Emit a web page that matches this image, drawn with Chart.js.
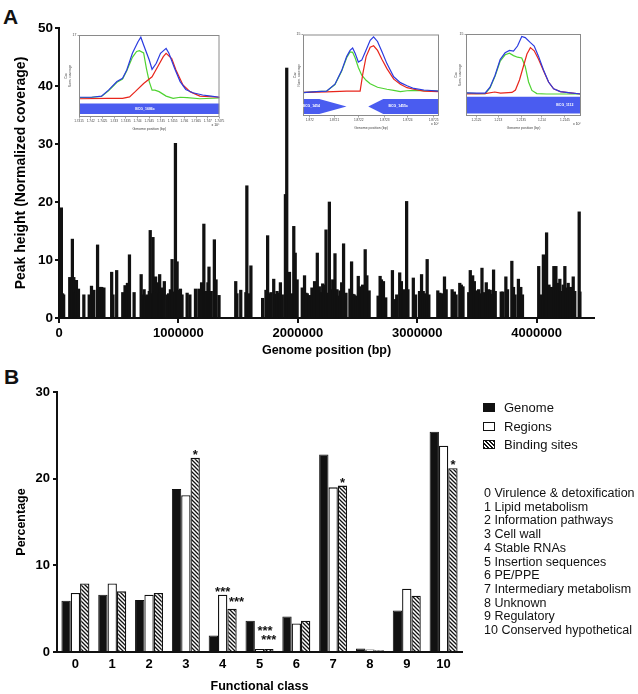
<!DOCTYPE html>
<html>
<head>
<meta charset="utf-8">
<script src="https://cdn.jsdelivr.net/npm/chart.js@4.4.1/dist/chart.umd.min.js"></script>
<style>
  body { margin: 0; background: #fff; }
  #page { position: relative; width: 638px; height: 694px; overflow: hidden; font-family: "Liberation Sans", Arial, sans-serif; color: #111; }
  .abs { position: absolute; }
  .letter { font-size: 21px; font-weight: bold; line-height: 1; }
  .legRow { position: absolute; left: 483px; height: 14px; font-size: 13px; line-height: 14px; }
  .legRow span.sw { position: absolute; left: 0; top: 2px; width: 12px; height: 9px; box-sizing: border-box; border: 1.3px solid #111; }
  .legRow span.tx { position: absolute; left: 21px; top: 0; white-space: nowrap; }
  #classList { position: absolute; left: 484px; top: 487px; font-size: 12.5px; line-height: 13.7px; white-space: nowrap; }
</style>
</head>
<body>
<div id="page">
  <div class="abs letter" style="left:3px;top:6px">A</div>
  <canvas id="peakChart" class="abs" width="638" height="360" style="left:0;top:0"></canvas>
  <canvas id="inset1" class="abs" width="166" height="102" style="left:60px;top:30px"></canvas>
  <canvas id="inset2" class="abs" width="156" height="102" style="left:289px;top:29px"></canvas>
  <canvas id="inset3" class="abs" width="137" height="102" style="left:450px;top:29px"></canvas>

  <div class="abs letter" style="left:4px;top:366px">B</div>
  <canvas id="classChart" class="abs" width="638" height="334" style="left:0;top:360px"></canvas>
  <div id="legend"></div>
  <div id="classList"></div>
</div>

<script>
/* ChIP-seq peaks across the genome (A) and functional class distribution (B) */

// ---- Panel A: peak positions (bp) and peak heights (normalized coverage)
const peakPos = [
  2000, 20000, 30000, 39000, 90000, 100000, 112000, 124000, 135000, 146000, 163000,
  208000, 253000, 262000, 272000, 282000, 292000, 323000, 343000, 358000, 376000,
  441000, 452000, 483000, 534000, 553000, 563000, 573000, 590000, 629000,
  688000, 700000, 713000, 725000, 736000, 748000, 756000, 764000, 775000, 787000,
  800000, 809000, 818000, 826000, 835000, 843000, 852000, 862000, 872000, 882000,
  905000, 918000, 933000, 947000, 960000, 975000, 989000, 1000000, 1017000, 1030000,
  1073000, 1096000, 1143000, 1171000, 1194000, 1213000, 1223000, 1233000, 1247000, 1256000,
  1265000, 1275000, 1301000, 1315000, 1340000,
  1480000, 1490000, 1522000, 1565000, 1573000, 1590000, 1607000,
  1705000, 1733000, 1747000, 1760000, 1775000, 1798000, 1812000, 1826000, 1840000, 1854000,
  1870000, 1896000, 1907000, 1930000, 1948000, 1966000, 1978000, 1994000,
  2037000, 2056000, 2068000, 2079000, 2098000, 2118000, 2140000, 2163000, 2180000, 2194000,
  2208000, 2222000, 2236000, 2250000, 2264000, 2278000, 2292000, 2311000, 2328000, 2340000,
  2353000, 2367000, 2383000, 2403000, 2436000, 2450000, 2462000, 2472000, 2492000, 2506000,
  2519000, 2530000, 2542000, 2564000, 2578000, 2597000,
  2672000, 2689000, 2700000, 2717000, 2736000, 2792000, 2811000, 2828000, 2853000, 2867000,
  2879000, 2889000, 2911000, 2922000, 2967000, 2986000, 3019000, 3036000, 3050000, 3069000,
  3083000, 3097000, 3172000, 3189000, 3208000, 3228000, 3242000, 3292000, 3311000, 3325000,
  3356000, 3369000, 3383000, 3431000, 3444000, 3464000, 3478000, 3494000, 3514000, 3528000,
  3542000, 3556000, 3578000, 3597000, 3611000, 3625000, 3639000, 3653000, 3703000, 3717000,
  3742000, 3756000, 3792000, 3806000, 3819000, 3847000, 3867000, 3881000,
  4017000, 4033000, 4056000, 4069000, 4083000, 4103000, 4125000, 4144000, 4161000, 4181000,
  4194000, 4208000, 4222000, 4236000, 4250000, 4264000, 4283000, 4306000, 4319000, 4356000, 4362000
];
const peakHeight = [
  4.0, 19.0, 4.2, 4.0, 7.0, 4.0, 13.6, 7.0, 4.3, 6.5, 5.0,
  4.0, 4.0, 3.8, 5.5, 4.2, 4.8, 12.6, 5.3, 5.3, 5.2,
  7.9, 4.0, 8.2, 4.4, 5.6, 4.0, 6.0, 10.9, 4.4,
  7.5, 4.0, 4.9, 3.8, 4.0, 3.6, 4.6, 15.1, 4.2, 13.9,
  4.5, 7.1, 4.3, 6.1, 4.2, 7.5, 4.4, 5.2, 4.0, 6.3,
  4.0, 4.2, 4.9, 10.1, 4.5, 30.1, 9.7, 4.8, 5.0, 4.0,
  4.3, 4.0, 5.0, 5.0, 6.1, 16.2, 4.4, 4.6, 6.1, 8.8,
  4.5, 4.6, 13.5, 6.6, 3.9,
  6.3, 4.2, 4.8, 4.4, 22.8, 4.2, 9.0,
  3.4, 4.8, 14.2, 4.2, 4.4, 6.7, 4.1, 4.6, 4.3, 6.1,
  4.0, 21.3, 43.1, 7.9, 4.2, 15.8, 11.2, 6.6,
  5.2, 7.3, 4.3, 4.2, 3.9, 5.2, 6.3, 11.2, 5.4, 4.4,
  5.9, 5.7, 15.2, 4.3, 20.0, 4.9, 6.6, 11.1, 4.9, 3.8,
  4.7, 6.1, 12.8, 4.3, 5.0, 9.7, 4.1, 4.0, 3.8, 7.2,
  5.4, 4.2, 5.7, 11.8, 7.3, 4.7,
  3.8, 7.2, 6.6, 6.3, 3.5, 8.2, 3.2, 4.0, 7.8, 6.3,
  4.2, 4.9, 20.1, 4.9, 6.9, 4.0, 4.6, 7.5, 4.6, 4.2,
  10.1, 4.0, 4.7, 4.3, 4.2, 7.1, 4.9, 4.9, 4.5, 4.0,
  6.0, 5.7, 5.4, 4.4, 8.2, 7.3, 6.3, 4.7, 4.9, 4.2,
  8.6, 4.4, 6.1, 4.9, 4.8, 4.1, 8.3, 4.6, 4.5, 4.5,
  7.1, 4.9, 9.8, 5.3, 4.0, 6.7, 5.3, 4.0,
  8.9, 4.0, 10.9, 4.0, 14.7, 5.7, 5.3, 8.9, 8.9, 6.0,
  6.7, 4.6, 5.7, 8.9, 5.2, 6.0, 5.3, 7.1, 4.6, 18.3, 4.5
];
const genomeTicks = [0, 1000000, 2000000, 3000000, 4000000];

// ---- Panel A insets: coverage traces, x as % of the window, y as normalized coverage
const inset1Blue = [[0,0.3],[9,0.3],[16,0.6],[21,2.2],[27,4.5],[31,5.4],[34,7.6],[38,12.1],[42,15.2],[44,16.4],[46,14.3],[50,10.3],[52,7.8],[55,9.4],[58,12.1],[62,13.4],[64,12.1],[68,8.1],[72,4.5],[76,2.4],[81,1.5],[88,0.9],[94,0.6],[100,0.3]];
const inset1Green = [[0,0.2],[9,0.3],[16,0.5],[21,2.0],[27,4.3],[31,5.2],[34,7.4],[38,11.0],[41,12.6],[43,12.8],[46,12.2],[48,8.0],[50,4.5],[52,2.2],[54,2.2],[57,1.8],[62,0.6],[67,0.0],[72,0.3],[77,0.2],[86,-0.1],[100,0.1]];
const inset1Red = [[0,-0.1],[20,0.0],[31,0.0],[36,0.4],[40,1.8],[46,4.0],[52,5.8],[56,8.5],[60,11.2],[62,12.1],[66,10.7],[69,7.6],[74,3.6],[79,1.8],[86,0.6],[100,0.3]];
const inset1Genes = [{ name: "BCG_1686c", shape: [[0,-1.35],[100,-1.35],[100,-4.2],[0,-4.2]], labelAt: [47,-2.8] }];
const inset1TickPos = [0, 8.33, 16.67, 25, 33.33, 41.67, 50, 58.33, 66.67, 75, 83.33, 91.67, 100];
const inset1TickLab = ["1.7415","1.742","1.7425","1.743","1.7435","1.744","1.7445","1.745","1.7455","1.746","1.7465","1.747","1.7475"];

const inset2Blue = [[0,0.0],[9.9,0.3],[17.3,0.4],[23.5,2.2],[28.4,5.7],[32.1,9.3],[34.6,10.9],[36.5,11.5],[38.3,10.2],[40.7,7.9],[43.2,8.4],[46.4,11.0],[49.4,13.5],[51.9,14.4],[54.8,13.2],[58,10.6],[61.7,7.5],[66.7,4.1],[71.6,2.6],[76.5,1.8],[81.5,1.1],[88.9,0.7],[100,0.4]];
const inset2Green = [[0,0.0],[9.9,0.3],[17.3,0.4],[23.5,2.1],[28.4,5.5],[32.1,9.0],[34.6,10.5],[36.5,10.4],[38.3,9.0],[40.7,6.5],[43.2,4.5],[46.4,3.2],[49.4,2.3],[54.8,1.4],[61.7,0.9],[66.7,0.6],[71.6,0.3],[76.5,0.5],[81.5,0.6],[88.9,0.5],[100,0.4]];
const inset2Red = [[0,0.1],[17.3,0.2],[32,0.4],[42,0.4],[44,4.9],[46.4,9.3],[49.4,11.7],[51.9,12.1],[54.8,10.9],[58,8.6],[61.7,6.2],[66.7,3.5],[71.6,2.2],[76.5,1.3],[81.5,0.9],[88.9,0.4],[100,0.3]];
const inset2Genes = [
  { name: "BCG_1454", shape: [[0,-1.6],[12,-1.6],[32,-3.55],[12,-5.5],[0,-5.5]], labelAt: [6,-3.55] },
  { name: "BCG_1455c", shape: [[100,-1.6],[59,-1.6],[48,-3.55],[59,-5.5],[100,-5.5]], labelAt: [70,-3.55] }
];
const inset2TickPos = [5, 23, 41, 60, 77, 96];
const inset2TickLab = ["1.872","1.8721","1.8722","1.8723","1.8724","1.8725"];

const inset3Blue = [[0,0.3],[9.3,0.2],[16.6,0.2],[20.9,1.7],[25.3,4.7],[29.7,8.6],[34,10.3],[37.8,10.9],[41.3,10.7],[44.8,12.0],[48.5,14.4],[51.5,14.1],[55.8,12.9],[59.3,12.0],[63.1,9.4],[67.4,6.0],[71.8,3.0],[76.2,1.3],[82,0.6],[90.7,0.3],[100,0.0]];
const inset3Green = [[0,0.2],[9.3,0.1],[16.6,0.1],[20.9,1.5],[25.3,4.5],[29.7,8.2],[34,9.8],[37.8,10.2],[41.3,9.6],[44.8,9.2],[48.5,9.0],[51.5,6.9],[54.4,3.0],[57.3,0.9],[61.6,0.1],[70,0.0],[82,0.0],[100,0.0]];
const inset3Red = [[0,0.0],[16.6,0.1],[25,0.5],[30,0.2],[40,0.4],[43,1.0],[46.5,3.5],[50,7.0],[53,10.0],[56,11.6],[59.3,10.8],[63.1,8.7],[67.4,5.8],[71.8,3.0],[76.2,1.3],[82,0.6],[90.7,0.3],[100,0.0]];
const inset3Genes = [{ name: "BCG_1112", shape: [[0,-0.7],[100,-0.7],[100,-4.9],[0,-4.9]], labelAt: [86,-2.8] }];
const inset3TickPos = [9, 28, 48, 66, 86];
const inset3TickLab = ["1.2125","1.213","1.2135","1.214","1.2145"];

// ---- Panel B: functional classes (%)
const classIds = ["0","1","2","3","4","5","6","7","8","9","10"];
const classNames = ["Virulence & detoxification","Lipid metabolism","Information pathways","Cell wall","Stable RNAs",
  "Insertion sequences","PE/PPE","Intermediary metabolism","Unknown","Regulatory","Conserved hypothetical"];
const genomePct = [5.9, 6.6, 6.0, 18.8, 1.9, 3.6, 4.1, 22.8, 0.4, 4.8, 25.4];
const regionPct = [6.8, 7.9, 6.6, 18.1, 6.6, 0.35, 3.3, 19.0, 0.3, 7.3, 23.8];
const sitePct   = [7.9, 7.0, 6.8, 22.4, 5.0, 0.35, 3.6, 19.2, 0.2, 6.5, 21.2];
// [class index, series index, marker]
const sigMarks = [[3,2,"*"],[4,1,"***"],[4,2,"***"],[5,1,"***"],[5,2,"***"],[7,2,"*"],[10,2,"*"]];

const FONT = "'Liberation Sans', Arial, Helvetica, sans-serif";
Chart.defaults.font.family = FONT;
Chart.defaults.color = "#000";
Chart.defaults.animation = false;

const BLACK = "#111";
const axisGrid = (len) => ({ drawOnChartArea: false, drawTicks: len > 0, tickLength: len, color: BLACK, lineWidth: 2 });
const axisBorder = { color: BLACK, width: 2 };

// ----- Panel A main spike chart
new Chart(document.getElementById("peakChart"), {
  type: "bar",
  data: {
    datasets: [{
      data: peakPos.map((p, i) => ({ x: p, y: peakHeight[i] })),
      backgroundColor: BLACK,
      borderWidth: 0,
      barThickness: 2.6
    }]
  },
  options: {
    responsive: false,
    layout: { padding: { top: 28, right: 44, left: 0, bottom: 0 } },
    plugins: { legend: { display: false }, tooltip: { enabled: false } },
    scales: {
      x: {
        type: "linear", min: 0, max: 4480000, offset: false,
        grid: { ...axisGrid(5), offset: false },
        border: axisBorder,
        afterBuildTicks: s => { s.ticks = genomeTicks.map(v => ({ value: v })); },
        ticks: { autoSkip: false, maxRotation: 0, padding: 3, callback: v => String(v),
                 font: { size: 13, weight: "bold" } },
        title: { display: true, text: "Genome position (bp)", font: { size: 12.5, weight: "bold" }, padding: { top: 0, bottom: 1.5 } },
        afterFit: s => { s.height = 42; }
      },
      y: {
        min: 0, max: 50,
        grid: axisGrid(4),
        border: axisBorder,
        ticks: { stepSize: 10, padding: 2, font: { size: 13.5, weight: "bold" } },
        title: { display: true, text: "Peak height (Normalized coverage)", font: { size: 14, weight: "bold" }, padding: { top: 13, bottom: 0 } },
        afterFit: s => { s.width = 59; }
      }
    }
  }
});

// ----- Insets
const insetFrame = {
  id: "insetFrame",
  afterDatasetsDraw(chart, args, opts) {
    const { ctx, chartArea: a } = chart;
    ctx.save();
    ctx.strokeStyle = "#8a8a8a";
    ctx.lineWidth = 1;
    ctx.strokeRect(a.left + 0.5, a.top + 0.5, a.right - a.left - 1, a.bottom - a.top - 1);
    // gene names on the annotation band
    ctx.fillStyle = "#fff";
    ctx.font = "bold 3.5px " + FONT;
    ctx.textAlign = "center";
    ctx.textBaseline = "middle";
    (opts.genes || []).forEach(g => {
      ctx.fillText(g.name, chart.scales.x.getPixelForValue(g.labelAt[0]), chart.scales.y.getPixelForValue(g.labelAt[1]));
    });
    // axis multiplier
    ctx.fillStyle = "#333";
    ctx.textAlign = "right";
    ctx.textBaseline = "top";
    ctx.font = "3.5px " + FONT;
    ctx.fillText("x 10\u2076", a.right, a.bottom + 6);
    ctx.restore();
  }
};

function trace(points, color) {
  return { data: points.map(p => ({ x: p[0], y: p[1] })), borderColor: color, borderWidth: 1.2,
           pointRadius: 0, tension: 0, fill: false };
}

function makeInset(id, blue, green, red, genes, yMin, yMax, tickPos, tickLab, yAxisW, padTop, padRight) {
  const geneSets = genes.map(g => ({
    data: g.shape.map(p => ({ x: p[0], y: p[1] })),
    borderWidth: 0, pointRadius: 0, tension: 0,
    backgroundColor: "#4a5cf0", fill: "shape"
  }));
  new Chart(document.getElementById(id), {
    type: "line",
    data: { datasets: [trace(blue, "#2b3be0"), trace(red, "#e8261c"), trace(green, "#4fd331"), ...geneSets] },
    options: {
      responsive: false,
      layout: { padding: { top: padTop, right: padRight, left: 0, bottom: 0 } },
      plugins: { legend: { display: false }, tooltip: { enabled: false }, insetFrame: { genes } },
      scales: {
        x: {
          type: "linear", min: 0, max: 100,
          grid: { drawOnChartArea: false, tickLength: 1.5, color: "#666", lineWidth: 0.6 },
          border: { display: false },
          afterBuildTicks: s => { s.ticks = tickPos.map(v => ({ value: v })); },
          ticks: { autoSkip: false, maxRotation: 0, padding: 0.5, color: "#444", font: { size: 3.2 },
                   callback: (v, i) => tickLab[i] },
          title: { display: true, text: "Genome position (bp)", color: "#444", font: { size: 3.5 }, padding: { top: 0, bottom: 1 } },
          afterFit: s => { s.height = 15; }
        },
        y: {
          min: yMin, max: yMax,
          grid: { drawOnChartArea: false, tickLength: 1.5, color: "#666", lineWidth: 0.6 },
          border: { display: false },
          afterBuildTicks: s => { s.ticks = [{ value: yMax }]; },
          ticks: { padding: 1, color: "#444", font: { size: 3.5 } },
          title: { display: true, text: ["Cov", "Norm. coverage"], color: "#444", font: { size: 3.2 }, padding: { top: 4, bottom: 0 } },
          afterFit: s => { s.width = yAxisW; }
        }
      }
    },
    plugins: [insetFrame]
  });
}

makeInset("inset1", inset1Blue, inset1Green, inset1Red, inset1Genes, -5, 17, inset1TickPos, inset1TickLab, 19, 5, 6.5);
makeInset("inset2", inset2Blue, inset2Green, inset2Red, inset2Genes, -6, 15, inset2TickPos, inset2TickLab, 14, 5.5, 6);
makeInset("inset3", inset3Blue, inset3Green, inset3Red, inset3Genes, -5.5, 15, inset3TickPos, inset3TickLab, 16, 5, 6);

// ----- Panel B
function hatchPattern() {
  const c = document.createElement("canvas");
  c.width = 4; c.height = 4;
  const g = c.getContext("2d");
  g.fillStyle = "#fff";
  g.fillRect(0, 0, 4, 4);
  g.strokeStyle = BLACK;
  g.lineWidth = 1.3;
  g.beginPath();
  g.moveTo(-1, -1); g.lineTo(5, 5);
  g.moveTo(-1, 3); g.lineTo(1, 5);
  g.moveTo(3, -1); g.lineTo(5, 1);
  g.stroke();
  return g.createPattern(c, "repeat");
}
const hatch = hatchPattern();

const sigPlugin = {
  id: "sigMarks",
  afterDatasetsDraw(chart) {
    const shift = { "4,2": [4.5, -3], "5,1": [5.5, -14], "5,2": [0, -5] };
    const ctx = chart.ctx;
    ctx.save();
    ctx.fillStyle = BLACK;
    ctx.font = "bold 13px " + FONT;
    ctx.textAlign = "center";
    ctx.textBaseline = "alphabetic";
    sigMarks.forEach(([ci, di, txt]) => {
      const bar = chart.getDatasetMeta(di).data[ci];
      const off = shift[ci + "," + di] || [0, 1];
      ctx.fillText(txt, bar.x + off[0], bar.y + off[1]);
    });
    ctx.restore();
  }
};

new Chart(document.getElementById("classChart"), {
  type: "bar",
  data: {
    labels: classIds,
    datasets: [
      { label: "Genome", data: genomePct, backgroundColor: BLACK, borderColor: BLACK, borderWidth: 1 },
      { label: "Regions", data: regionPct, backgroundColor: "#fff", borderColor: BLACK, borderWidth: 1.3 },
      { label: "Binding sites", data: sitePct, backgroundColor: hatch, borderColor: BLACK, borderWidth: 1.3 }
    ]
  },
  options: {
    responsive: false,
    layout: { padding: { top: 32, right: 176, left: 0, bottom: 0 } },
    datasets: { bar: { categoryPercentage: 0.76, barPercentage: 1.0 } },
    plugins: { legend: { display: false }, tooltip: { enabled: false } },
    scales: {
      x: {
        grid: { drawOnChartArea: false, drawTicks: false, color: BLACK },
        border: axisBorder,
        ticks: { padding: 5, font: { size: 13, weight: "bold" } },
        title: { display: true, text: "Functional class", font: { size: 12.5, weight: "bold" }, padding: { top: 0, bottom: 0 } },
        afterFit: s => { s.height = 42; }
      },
      y: {
        min: 0, max: 30,
        grid: axisGrid(4),
        border: axisBorder,
        ticks: { stepSize: 10, padding: 3, font: { size: 13, weight: "bold" } },
        title: { display: true, text: "Percentage", font: { size: 12.5, weight: "bold" }, padding: { top: 14, bottom: 0 } },
        afterFit: s => { s.width = 57; }
      }
    }
  },
  plugins: [sigPlugin]
});

// ----- Panel B legend and class key (HTML)
const legendItems = [
  { label: "Genome", bg: BLACK },
  { label: "Regions", bg: "#fff" },
  { label: "Binding sites", bg: "repeating-linear-gradient(45deg, #111 0 1.3px, #fff 1.3px 2.8px)" }
];
const legendTops = [401, 420, 438];
const legendEl = document.getElementById("legend");
legendItems.forEach((it, i) => {
  const row = document.createElement("div");
  row.className = "legRow";
  row.style.top = legendTops[i] + "px";
  row.innerHTML = '<span class="sw" style="background:' + it.bg + '"></span><span class="tx"></span>';
  row.querySelector(".tx").textContent = it.label;
  legendEl.appendChild(row);
});
document.getElementById("classList").innerHTML =
  classIds.map((id, i) => id + " " + classNames[i].replace("&", "&amp;")).join("<br>");
</script>
</body>
</html>
